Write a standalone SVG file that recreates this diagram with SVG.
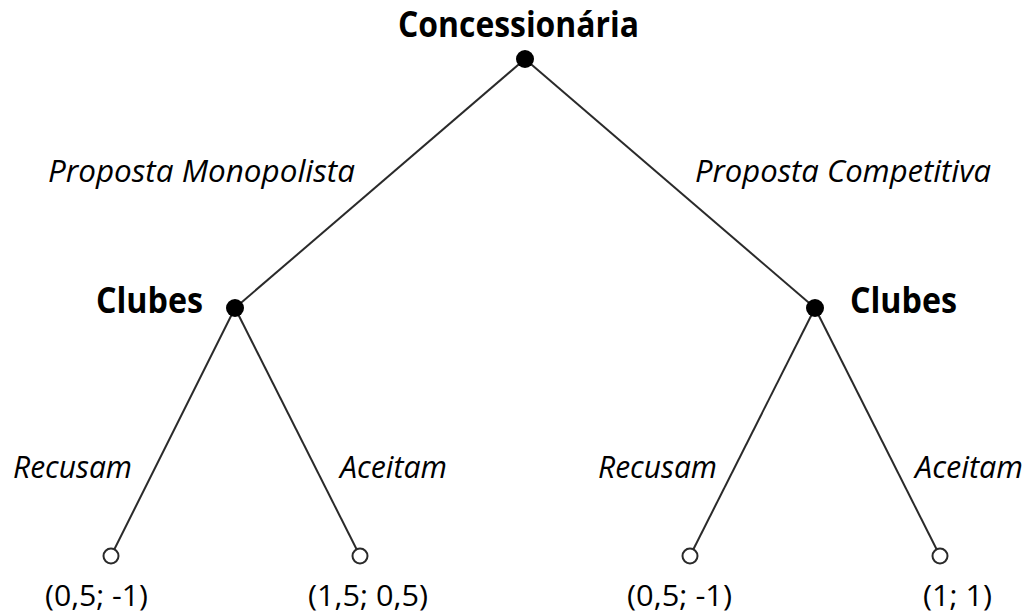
<svg xmlns="http://www.w3.org/2000/svg" width="1030" height="614" viewBox="0 0 1030 614">
<style>
.edge{stroke:#2a2a2a;stroke-width:2;fill:none}
.dec{fill:#000}
.leaf{fill:#fff;stroke:#2a2a2a;stroke-width:2}
.t{font-family:"Open Sans","Noto Sans",sans-serif;fill:#000}
.b{font-weight:bold;font-size:36px}
.i{font-style:italic;font-size:31px}
.p{font-size:30px}
</style>
<rect width="1030" height="614" fill="#fff"/>
<g id="connectors">
<line class="edge" x1="525" y1="59" x2="235" y2="308"/>
<line class="edge" x1="525" y1="59" x2="815" y2="308"/>
<line class="edge" x1="235" y1="308" x2="111" y2="556"/>
<line class="edge" x1="235" y1="308" x2="360" y2="556"/>
<line class="edge" x1="815" y1="308" x2="690" y2="556"/>
<line class="edge" x1="815" y1="308" x2="940" y2="556"/>
</g>
<g id="edge-labels">
<text class="t i" x="48" y="182" textLength="307" lengthAdjust="spacingAndGlyphs">Proposta Monopolista</text>
<text class="t i" x="695" y="182" textLength="296" lengthAdjust="spacingAndGlyphs">Proposta Competitiva</text>
<text class="t i" x="13" y="478" textLength="119" lengthAdjust="spacingAndGlyphs">Recusam</text>
<text class="t i" x="340" y="478" textLength="107" lengthAdjust="spacingAndGlyphs">Aceitam</text>
<text class="t i" x="598" y="478" textLength="119" lengthAdjust="spacingAndGlyphs">Recusam</text>
<text class="t i" x="915" y="478" textLength="108" lengthAdjust="spacingAndGlyphs">Aceitam</text>
</g>
<g id="node-root">
<circle class="dec" cx="525" cy="59" r="9"/>
<text class="t b" x="398" y="37" textLength="241" lengthAdjust="spacingAndGlyphs">Concessionária</text>
</g>
<g id="node-clubes-left">
<circle class="dec" cx="235" cy="308" r="9"/>
<text class="t b" x="96" y="313" textLength="107" lengthAdjust="spacingAndGlyphs">Clubes</text>
</g>
<g id="node-clubes-right">
<circle class="dec" cx="815" cy="308" r="9"/>
<text class="t b" x="850" y="313" textLength="107" lengthAdjust="spacingAndGlyphs">Clubes</text>
</g>
<g id="leaf-1">
<circle class="leaf" cx="111" cy="556" r="7.5"/>
<text class="t p" x="45" y="606" textLength="103" lengthAdjust="spacingAndGlyphs">(0,5; -1)</text>
</g>
<g id="leaf-2">
<circle class="leaf" cx="360" cy="556" r="7.5"/>
<text class="t p" x="308" y="606" textLength="120" lengthAdjust="spacingAndGlyphs">(1,5; 0,5)</text>
</g>
<g id="leaf-3">
<circle class="leaf" cx="690" cy="556" r="7.5"/>
<text class="t p" x="627" y="606" textLength="105" lengthAdjust="spacingAndGlyphs">(0,5; -1)</text>
</g>
<g id="leaf-4">
<circle class="leaf" cx="940" cy="556" r="7.5"/>
<text class="t p" x="923" y="606" textLength="69" lengthAdjust="spacingAndGlyphs">(1; 1)</text>
</g>
</svg>
